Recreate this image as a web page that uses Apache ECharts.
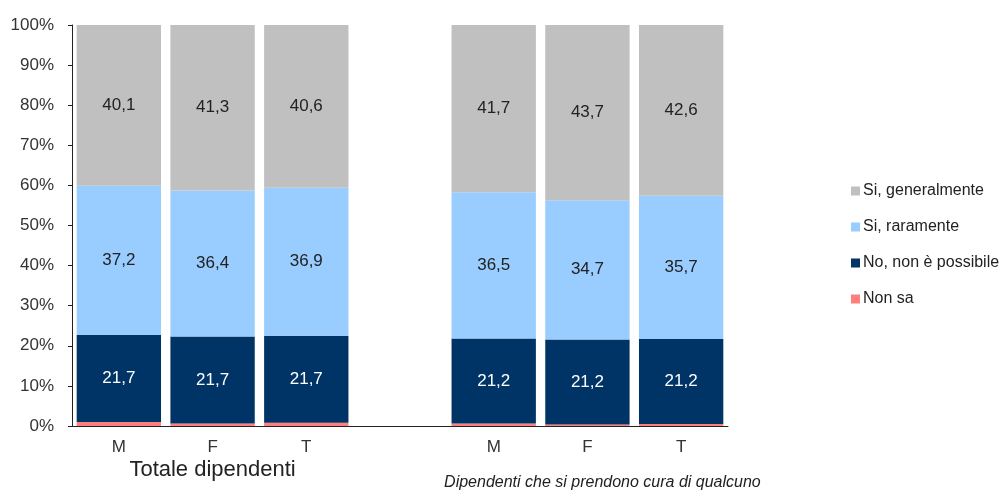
<!DOCTYPE html>
<html><head><meta charset="utf-8">
<script src="https://cdn.jsdelivr.net/npm/echarts@6/dist/echarts.min.js"></script>
<style>html,body{margin:0;padding:0;background:#fff}#c{width:1006px;height:495px}</style>
</head><body><div id="c"></div>
<script>
const categories = ['M', 'F', 'T', '', 'M', 'F', 'T'];
const groupLabels = ['', 'Totale dipendenti', '', '', '', 'Dipendenti che si prendono cura di qualcuno', ''];
const nonSa = [1.0, 0.6, 0.8, null, 0.6, 0.4, 0.5];
const noNonPossibile = [21.7, 21.7, 21.7, null, 21.2, 21.2, 21.2];
const siRaramente = [37.2, 36.4, 36.9, null, 36.5, 34.7, 35.7];
const siGeneralmente = [40.1, 41.3, 40.6, null, 41.7, 43.7, 42.6];
const yTicks = [0, 10, 20, 30, 40, 50, 60, 70, 80, 90, 100];

const chart = echarts.init(document.getElementById('c'));
const font = 'Liberation Sans, Arial, sans-serif';
function mk(name, data, color, labelColor, showLabel) {
  return {
    name, type: 'bar', stack: 's', data, barCategoryGap: '10%',
    itemStyle: { color },
    label: {
      show: showLabel, position: 'inside', color: labelColor, fontFamily: font, fontSize: 17,
      formatter: p => p.value == null ? '' : p.value.toFixed(1).replace('.', ',')
    },
    emphasis: { disabled: true }
  };
}
chart.setOption({
  animation: false,
  grid: { left: 72, right: 278, top: 25, bottom: 69 },
  legend: {
    orient: 'vertical', left: 846, top: 178, itemGap: 20,
    itemWidth: 9, itemHeight: 9, icon: 'rect',
    textStyle: { fontFamily: font, fontSize: 16, color: '#222', padding: [0, 0, 0, -2] },
    data: ['Si, generalmente', 'Si, raramente', 'No, non è possibile', 'Non sa']
  },
  xAxis: [{
    type: 'category', data: categories, position: 'bottom',
    axisLine: { lineStyle: { color: '#222', width: 1 } },
    axisTick: { show: false },
    axisLabel: { fontFamily: font, fontSize: 17, color: '#333', margin: 13, interval: 0 }
  }, {
    type: 'category', data: groupLabels.map((t, i) => ({
      value: t,
      textStyle: i === 5 ? { fontStyle: 'italic', fontSize: 16, padding: [16, 0, 0, 30] } : { fontSize: 22 }
    })),
    position: 'bottom', offset: 24,
    axisLine: { show: false }, axisTick: { show: false },
    axisLabel: { fontFamily: font, color: '#222', interval: 0, margin: 9 }
  }],
  yAxis: {
    type: 'value', min: 0, max: 100, interval: 10,
    axisLine: { show: true, lineStyle: { color: '#222' } },
    axisTick: { show: true, length: 4, lineStyle: { color: '#222' } },
    splitLine: { show: false },
    axisLabel: { fontFamily: font, fontSize: 17, color: '#333', margin: 18,
      formatter: v => yTicks.includes(v) ? v + '%' : '' }
  },
  series: [
    mk('Non sa', nonSa, '#FF7F7F', '#000', false),
    mk('No, non è possibile', noNonPossibile, '#003366', '#fff', true),
    mk('Si, raramente', siRaramente, '#99CCFF', '#222', true),
    mk('Si, generalmente', siGeneralmente, '#C0C0C0', '#222', true)
  ]
});
</script></body></html>
